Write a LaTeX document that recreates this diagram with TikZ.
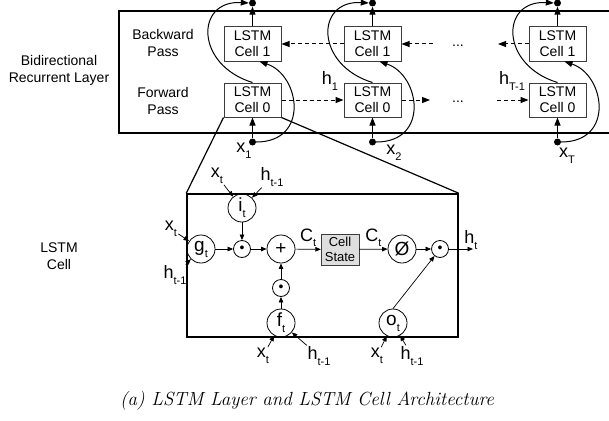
\documentclass[tikz,border=0pt]{standalone}
\usepackage{fontspec}
\setsansfont{Liberation Sans}
\usetikzlibrary{positioning, calc, arrows.meta}
\usepackage{xcolor}
\definecolor{EdgeGray}{RGB}{60, 60, 60}
\definecolor{StateGray}{RGB}{222, 222, 222}
\newcommand{\subsc}[2]{#1\raisebox{-0.6ex}{\fontsize{11}{11}\selectfont #2}}

\begin{document}
\begin{tikzpicture}[x=1pt, y=-1pt,
          cellbox/.style={draw=EdgeGray, fill=white, line width=1pt,
                      minimum width=57pt, minimum height=34pt, inner sep=1pt,
                      align=center, font=\sffamily\fontsize{14}{16}\selectfont},
          gate/.style={circle, draw, line width=0.8pt, minimum size=28pt,
                      inner sep=0pt, font=\sffamily\fontsize{19}{19}\selectfont},
          mult/.style={circle, draw, line width=0.8pt, minimum size=17pt,
                      inner sep=0pt, font=\sffamily\fontsize{14}{14}\selectfont},
          tap/.style={circle, fill, inner sep=0pt, minimum size=7pt},
          arr/.style={-{Triangle[length=8pt, width=6pt]}, line width=1pt},
          darr/.style={arr, dash pattern=on 4pt off 3pt},
          carr/.style={-{Triangle[length=5.5pt, width=4.5pt]}, line width=0.7pt},
          lbl/.style={font=\sffamily\fontsize{14}{17}\selectfont, align=center},
          var/.style={font=\sffamily\fontsize{18}{18}\selectfont, inner sep=1pt}
        ]
        \useasboundingbox (0,0) rectangle (609,420);
        \clip (0,0) rectangle (609,420);

        % bidirectional layer
        \draw[line width=2pt] (620,11) -- (119,11) -- (119,133) -- (620,133);
        \node[lbl] (lyrname) at (59,70)  {Bidirectional\\Recurrent Layer};
        \node[lbl] (bwname)  at (163,43) {Backward\\Pass};
        \node[lbl] (fwname)  at (163,101) {Forward\\Pass};

        \foreach \c/\x in {1/252.5, 2/372.5, T/557.5} {
          \node[cellbox] (bw\c) at (\x,44)  {LSTM\\Cell 1};
          \node[cellbox] (fw\c) at (\x,100) {LSTM\\Cell 0};
          \node[tap] (out\c) at (\x,3) {};
          \node[tap] (in\c)  at (\x,142) {};
          \draw[arr] (in\c) -- (fw\c);
          \draw[arr] (bw\c) -- (out\c);
          \draw[arr] (fw\c.north) .. controls (\x-57.5,65) and (\x-57.5,0) .. (out\c.west);
          \draw[arr] (in\c.east) .. controls (\x+57.5,142) and (\x+47.5,75) .. ([xshift=7pt]bw\c.south);
        }

        \coordinate (bwgapR) at (433,44);
        \coordinate (bwgapL) at (498,44);
        \coordinate (fwgapL) at (430,100);
        \coordinate (fwgapR) at (497,100);
        \draw[darr] (bw2) -- (bw1);
        \draw[darr] (bwgapR) -- (bw2);
        \draw[darr] (bwT) -- (bwgapL);
        \draw[darr] (fw1) -- (fw2);
        \draw[darr] (fw2) -- (fwgapL);
        \draw[darr] (fwgapR) -- (fwT);
        \node[lbl] (bwdots) at (458,46)  {...};
        \node[lbl] (fwdots) at (458,102) {...};

        \node[var] (hone)  at (330,81)  {\subsc{h}{1}};
        \node[var] (hlast) at (512,81)  {\subsc{h}{T-1}};
        \node[var] (xone)  at (244,151) {\subsc{x}{1}};
        \node[var] (xtwo)  at (394,153) {\subsc{x}{2}};
        \node[var] (xlast) at (567,156) {\subsc{x}{T}};

        % zoomed LSTM cell
        \node[draw, line width=1.5pt, minimum width=271pt, minimum height=143pt,
              inner sep=0pt] (frame) at (322.5,265.5) {};
        \draw[line width=1.2pt] (fw1.south west) -- (frame.north west);
        \draw[line width=1.2pt] (fw1.south east) -- (frame.north east);
        \node[lbl] (cellname) at (59,256) {LSTM\\Cell};

        \node[gate] (ig)  at (242,208) {\subsc{i}{t}};
        \node[gate] (gg)  at (201,249) {\subsc{g}{t}};
        \node[mult] (m1)  at (242,249) {\textbullet};
        \node[gate] (add) at (281,249) {+};
        \node[mult] (m2)  at (281,288) {\textbullet};
        \node[gate] (fg)  at (281,323) {\subsc{f}{t}};
        \node[draw=EdgeGray, fill=StateGray, minimum width=38pt, minimum height=31pt,
              inner sep=0pt, align=center, font=\sffamily\fontsize{13}{15}\selectfont]
              (cs) at (340,249.5) {Cell\\State};
        \node[gate] (phi) at (402,249) {Ø};
        \node[mult] (m3)  at (440,249) {\textbullet};
        \node[gate] (og)  at (393,323) {\subsc{o}{t}};

        \draw[carr] (gg) -- (m1);
        \draw[carr] (ig) -- (m1);
        \draw[carr] (m1) -- (add);
        \draw[carr] (fg) -- (m2);
        \draw[carr] (m2) -- (add);
        \draw[carr] (add) -- node[var, above=1pt]{\subsc{C}{t}} (cs);
        \draw[carr] (cs) -- node[var, above=1pt]{\subsc{C}{t}} (phi);
        \draw[carr] (phi) -- (m3);
        \draw[carr] (og.north) -- (m3);
        \coordinate (hout) at (473,249);
        \draw[carr] (m3) -- (hout);
        \node[var] (ht) at (471,240) {\subsc{h}{t}};

        % gate inputs
        \node[var] (xin_i) at (217,176) {\subsc{x}{t}};
        \node[var] (hin_i) at (272,177) {\subsc{h}{t-1}};
        \node[var] (xin_g) at (171,229) {\subsc{x}{t}};
        \node[var] (hin_g) at (175,275) {\subsc{h}{t-1}};
        \node[var] (xin_f) at (263,356) {\subsc{x}{t}};
        \node[var] (hin_f) at (319,356) {\subsc{h}{t-1}};
        \node[var] (xin_o) at (377,356) {\subsc{x}{t}};
        \node[var] (hin_o) at (412,356) {\subsc{h}{t-1}};
        \draw[carr] (xin_i) -- (ig);
        \draw[carr] (hin_i) -- (ig);
        \draw[carr] (xin_g) -- (gg);
        \draw[carr] (hin_g) -- (gg);
        \draw[carr] (xin_f) -- (fg);
        \draw[carr] (hin_f) -- (fg);
        \draw[carr] (xin_o) -- (og);
        \draw[carr] (hin_o) -- (og);

        \node[font=\itshape\fontsize{19}{19}\selectfont] (caption) at (307,401)
              {(a) LSTM Layer and LSTM Cell Architecture};
      \end{tikzpicture}
\end{document}
